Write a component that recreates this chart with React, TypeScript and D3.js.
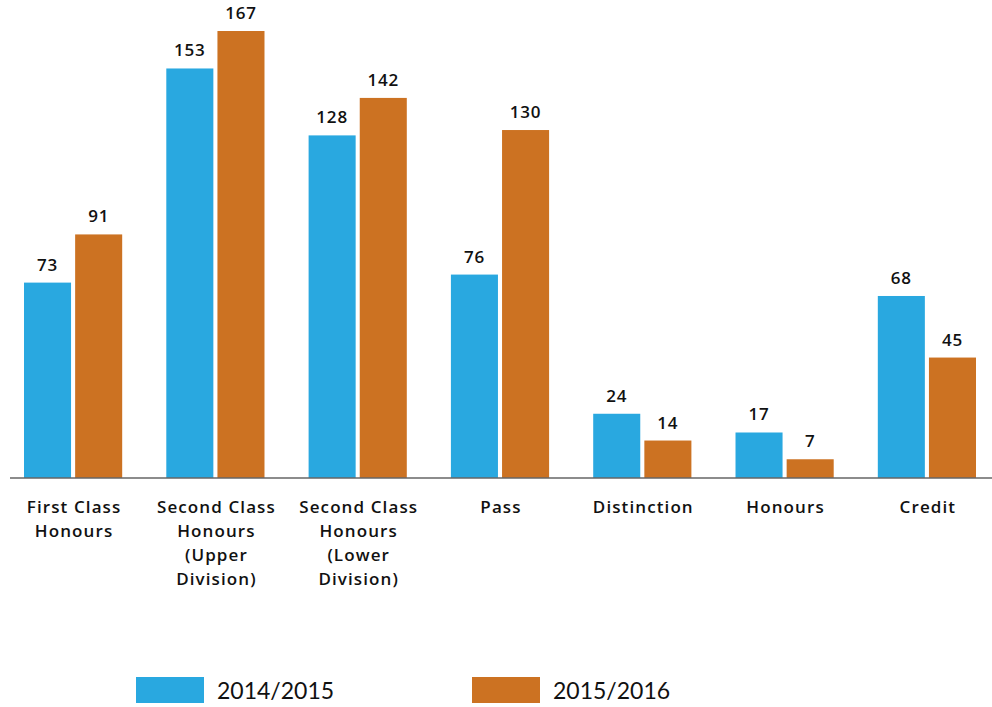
import React from "react";
import * as d3 from "d3";

const categories: string[][] = [
  ["First Class", "Honours"],
  ["Second Class", "Honours", "(Upper", "Division)"],
  ["Second Class", "Honours", "(Lower", "Division)"],
  ["Pass"],
  ["Distinction"],
  ["Honours"],
  ["Credit"],
];
const seriesNames = ["2014/2015", "2015/2016"];
const values2014 = [73, 153, 128, 76, 24, 17, 68];
const values2015 = [91, 167, 142, 130, 14, 7, 45];
const colors = ["#29A8E0", "#CC7222"];

const W = 992;
const H = 707;
const BOLD_FONT = "'Open Sans', Lato, sans-serif";
const LEGEND_FONT = "Lato, 'Open Sans', sans-serif";

export default function App() {
  const keys = categories.map((_, i) => String(i));
  const x0 = d3.scaleBand<string>().domain(keys).range([24, 976]).paddingInner(0.31).paddingOuter(0);
  const x1 = d3.scaleBand<string>().domain(seriesNames).range([0, x0.bandwidth()]).paddingInner(0.08);
  const y = d3.scaleLinear().domain([0, 167]).range([478, 31]);
  const series = [values2014, values2015];

  return (
    <svg width={W} height={H} style={{ position: "absolute", left: 0, top: 0, background: "#fff" }}>
      {keys.map((k, i) => (
        <g key={k} transform={`translate(${x0(k)},0)`}>
          {seriesNames.map((s, j) => {
            const v = series[j][i];
            const bx = x1(s)!;
            return (
              <g key={s}>
                <rect x={bx} y={y(v)} width={x1.bandwidth()} height={y(0) - y(v)} fill={colors[j]} />
                <text
                  x={bx + x1.bandwidth() / 2}
                  y={y(v) - 12}
                  textAnchor="middle"
                  fontFamily={BOLD_FONT}
                  fontSize={17}
                  fontWeight={600}
                  letterSpacing={0.8}
                  fill="#111"
                >
                  {v}
                </text>
              </g>
            );
          })}
          <text
            x={x0.bandwidth() / 2 + 1}
            y={513}
            textAnchor="middle"
            fontFamily={BOLD_FONT}
            fontSize={17}
            fontWeight={600}
            letterSpacing={1.1}
            fill="#111"
          >
            {categories[i].map((line, li) => (
              <tspan key={li} x={x0.bandwidth() / 2 + 1} dy={li === 0 ? 0 : 24}>
                {line}
              </tspan>
            ))}
          </text>
        </g>
      ))}
      <line x1={10} x2={992} y1={y(0)} y2={y(0)} stroke="#666" strokeWidth={1.5} />
      {seriesNames.map((s, j) => (
        <g key={s} transform={`translate(${136 + j * 336},677)`}>
          <rect x={0} y={0} width={68} height={26} fill={colors[j]} />
          <text x={81} y={22} fontFamily={LEGEND_FONT} fontSize={23} fontWeight={400} fill="#111">
            {s}
          </text>
        </g>
      ))}
    </svg>
  );
}
